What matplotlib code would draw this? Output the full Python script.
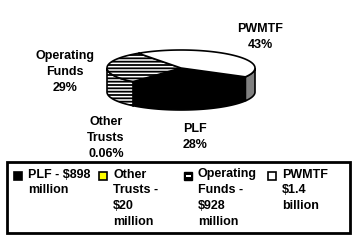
import matplotlib
matplotlib.use('Agg')
from matplotlib import pyplot as plt
from matplotlib.patches import Polygon, Rectangle
import numpy as np

plt.rcParams['font.family'] = ['Liberation Sans', 'DejaVu Sans']
plt.rcParams['hatch.linewidth'] = 1.3

# data
names = ['PLF', 'Other Trusts', 'Operating Funds', 'PWMTF']
shares = [28.0, 0.06, 29.0, 43.0]
slice_labels = ['PLF\n28%', 'Other\nTrusts\n0.06%', 'Operating\nFunds\n29%', 'PWMTF\n43%']
legend_labels = ['PLF - $898\nmillion', 'Other\nTrusts -\n$20\nmillion',
                 'Operating\nFunds -\n$928\nmillion', 'PWMTF\n$1.4\nbillion']
colors = ['black', '#ffff00', 'white', 'white']
side_colors = ['black', '#cccc00', 'white', '#808080']
hatches = [None, None, '-----', None]

# pie geometry (pixels)
cx, cy, a, b, depth = 181, 68, 74, 18, 24
start = 330.5

fig = plt.figure(figsize=(3.6, 2.41), dpi=100)
ax = fig.add_axes([0, 0, 1, 1])
ax.set_xlim(0, 360)
ax.set_ylim(241, 0)
ax.axis('off')


def ell(t, dy=0):
    t = np.radians(t)
    return np.column_stack([cx + a * np.cos(t), cy - b * np.sin(t) + dy])


total = sum(shares)
bounds = []
t = start
for s in shares:
    t2 = t - s / total * 360
    bounds.append((t2, t))
    t = t2

# side faces (front half: angles between 180 and 360)
for (t1, t2), sc, h in zip(bounds, side_colors, hatches):
    for off in (0, -360, 360):
        lo = max(t1 + off, 180)
        hi = min(t2 + off, 360)
        if hi > lo:
            tt = np.linspace(lo, hi, 60)
            pts = np.vstack([ell(tt), ell(tt[::-1], depth)])
            ax.add_patch(Polygon(pts, closed=True, facecolor=sc, edgecolor='black',
                                 hatch=h, linewidth=1.2, zorder=2))

# top wedges
for (t1, t2), c, h in zip(bounds, colors, hatches):
    tt = np.linspace(t1, t2, 80)
    pts = np.vstack([[cx, cy], ell(tt)])
    ax.add_patch(Polygon(pts, closed=True, facecolor=c, edgecolor='black',
                         hatch=h, linewidth=1.2, zorder=3))

# slice labels
label_pos = [(195, 137), (106, 138), (65, 72), (260, 37)]
for txt, (x, y) in zip(slice_labels, label_pos):
    ax.text(x, y, txt, ha='center', va='center', fontsize=9, fontweight='bold',
            linespacing=1.45, zorder=5)

# legend
ax.add_patch(Rectangle((7, 162), 343, 71, facecolor='white', edgecolor='black',
                       linewidth=2, zorder=4))
lx = [14, 99, 184, 268]
for x, c, h, txt in zip(lx, colors, hatches, legend_labels):
    if h:
        ax.add_patch(Rectangle((x, 172), 8, 8, facecolor='black', edgecolor='black',
                               linewidth=1, zorder=5))
        ax.add_patch(Rectangle((x + 1.5, 175), 5, 2, facecolor='white',
                               edgecolor='none', zorder=6))
    else:
        ax.add_patch(Rectangle((x, 172), 8, 8, facecolor=c, edgecolor='black',
                               linewidth=1.2, zorder=5))
    ax.text(x + 14, 168.5, txt, ha='left', va='top', fontsize=9, fontweight='bold',
            linespacing=1.42, zorder=6)

fig.savefig('out.png', dpi=100)
